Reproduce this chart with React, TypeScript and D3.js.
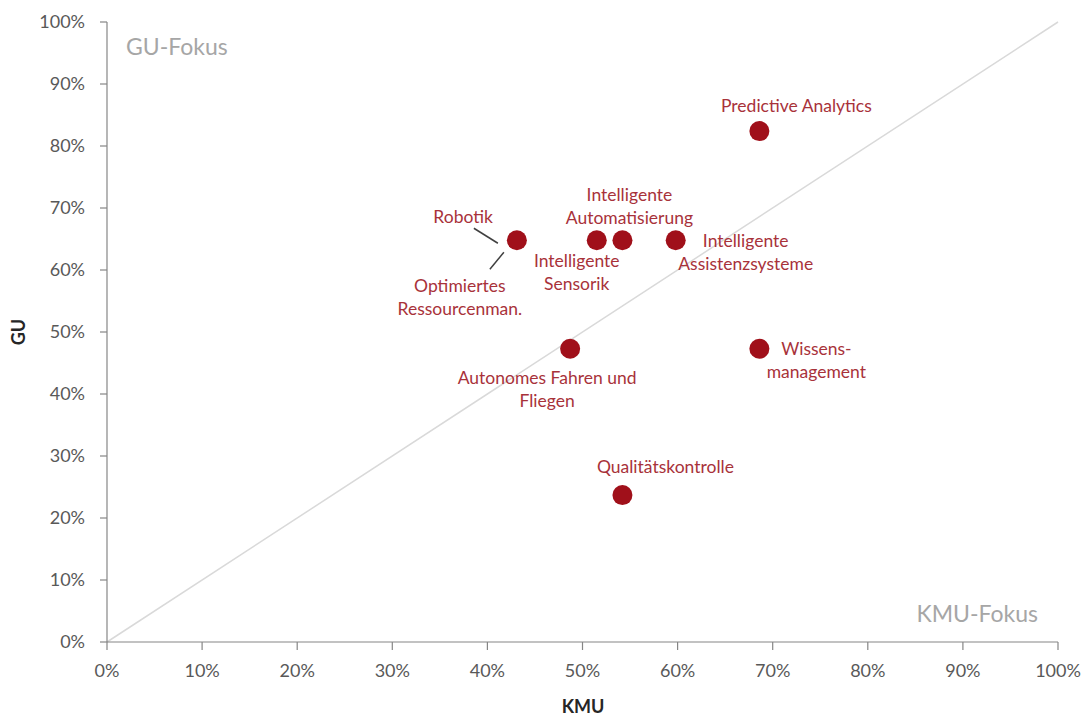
import React from 'react';
import * as d3 from 'd3';

// Technologiefelder: Bedeutung für KMU (x) vs. GU (y)
const names = [
  'Predictive Analytics',
  'Robotik / Optimiertes Ressourcenman.',
  'Intelligente Sensorik',
  'Intelligente Automatisierung',
  'Intelligente Assistenzsysteme',
  'Autonomes Fahren und Fliegen',
  'Wissensmanagement',
  'Qualitätskontrolle',
];
const kmu = [0.686, 0.431, 0.515, 0.542, 0.598, 0.487, 0.686, 0.542];
const gu = [0.824, 0.648, 0.648, 0.648, 0.648, 0.473, 0.473, 0.237];
const ticks = [0, 0.1, 0.2, 0.3, 0.4, 0.5, 0.6, 0.7, 0.8, 0.9, 1];

// label placement relative to each dot (px), with line breaks
const labelLayout: Record<string, { dx: number; dy: number; lines: string[]; anchor?: string }[]> = {
  'Predictive Analytics': [{ dx: 37, dy: -25, lines: ['Predictive Analytics'] }],
  'Robotik / Optimiertes Ressourcenman.': [
    { dx: -24, dy: -23, lines: ['Robotik'], anchor: 'end' },
    { dx: -57, dy: 57, lines: ['Optimiertes', 'Ressourcenman.'] },
  ],
  'Intelligente Sensorik': [{ dx: -20, dy: 32, lines: ['Intelligente', 'Sensorik'] }],
  'Intelligente Automatisierung': [{ dx: 7, dy: -34, lines: ['Intelligente', 'Automatisierung'] }],
  'Intelligente Assistenzsysteme': [{ dx: 70, dy: 12, lines: ['Intelligente', 'Assistenzsysteme'] }],
  'Autonomes Fahren und Fliegen': [{ dx: -23, dy: 41, lines: ['Autonomes Fahren und', 'Fliegen'] }],
  Wissensmanagement: [{ dx: 57, dy: 12, lines: ['Wissens-', 'management'] }],
  Qualitätskontrolle: [{ dx: 43, dy: -28, lines: ['Qualitätskontrolle'] }],
};

const width = 1088;
const height = 717;
const margin = { top: 22, right: 30, bottom: 75, left: 107 };
const font = 'Lato, "Open Sans", sans-serif';
const dotColor = '#a0101a';
const labelColor = '#a8323a';

const App = () => {
  const x = d3.scaleLinear().domain([0, 1]).range([margin.left, width - margin.right]);
  const y = d3.scaleLinear().domain([0, 1]).range([height - margin.bottom, margin.top]);
  const pct = d3.format('.0%');
  const lineH = 23;

  return (
    <svg
      width={width}
      height={height}
      viewBox={`0 0 ${width} ${height}`}
      style={{ position: 'absolute', left: 0, top: 0, background: '#fff' }}
      fontFamily={font}
    >
      {/* diagonal */}
      <line x1={x(0)} y1={y(0)} x2={x(1)} y2={y(1)} stroke="#d9d9d9" strokeWidth={1.5} />

      {/* y axis */}
      <line x1={x(0)} y1={y(0)} x2={x(0)} y2={y(1)} stroke="#868686" strokeWidth={1.2} />
      {ticks.map((t) => (
        <g key={`y${t}`}>
          <line x1={x(0) - 7} x2={x(0)} y1={y(t)} y2={y(t)} stroke="#868686" strokeWidth={1.2} />
          <text x={x(0) - 22} y={y(t)} dy="0.35em" textAnchor="end" fontSize={18} fill="#595959">
            {pct(t)}
          </text>
        </g>
      ))}

      {/* x axis */}
      <line x1={x(0)} y1={y(0)} x2={x(1)} y2={y(0)} stroke="#868686" strokeWidth={1.2} />
      {ticks.map((t) => (
        <g key={`x${t}`}>
          <line x1={x(t)} x2={x(t)} y1={y(0)} y2={y(0) + 8} stroke="#868686" strokeWidth={1.2} />
          <text x={x(t)} y={y(0) + 35} textAnchor="middle" fontSize={18} fill="#595959">
            {pct(t)}
          </text>
        </g>
      ))}

      {/* axis titles */}
      <text x={583} y={713} textAnchor="middle" fontSize={18} fontWeight="bold" fill="#262626">
        KMU
      </text>
      <text
        transform={`translate(25,${(y(0) + y(1)) / 2}) rotate(-90)`}
        textAnchor="middle"
        fontSize={18}
        fontWeight="bold"
        fill="#262626"
      >
        GU
      </text>

      {/* quadrant labels */}
      <text x={126} y={55} fontSize={23} fill="#a6a6a6">
        GU-Fokus
      </text>
      <text x={1038} y={622} textAnchor="end" fontSize={23} fill="#a6a6a6">
        KMU-Fokus
      </text>

      {/* leader lines for Robotik / Optimiertes Ressourcenman. */}
      <line x1={x(kmu[1]) - 43} y1={y(gu[1]) - 12} x2={x(kmu[1]) - 19} y2={y(gu[1]) + 3} stroke="#404040" strokeWidth={1.5} />
      <line x1={x(kmu[1]) - 27} y1={y(gu[1]) + 29} x2={x(kmu[1]) - 13} y2={y(gu[1]) + 12} stroke="#404040" strokeWidth={1.5} />

      {/* dots */}
      {names.map((n, i) => (
        <circle key={n} cx={x(kmu[i])} cy={y(gu[i])} r={10} fill={dotColor} />
      ))}

      {/* labels */}
      {names.map((n, i) =>
        labelLayout[n].map((l, j) => {
          const cx = x(kmu[i]) + l.dx;
          const cy = y(gu[i]) + l.dy - ((l.lines.length - 1) * lineH) / 2;
          return (
            <text
              key={`${n}-${j}`}
              x={cx}
              y={cy}
              textAnchor={l.anchor || 'middle'}
              fontSize={17.5}
              fill={labelColor}
            >
              {l.lines.map((s, k) => (
                <tspan key={k} x={cx} y={cy + k * lineH} dy="0.35em">
                  {s}
                </tspan>
              ))}
            </text>
          );
        })
      )}
    </svg>
  );
};

export default App;
